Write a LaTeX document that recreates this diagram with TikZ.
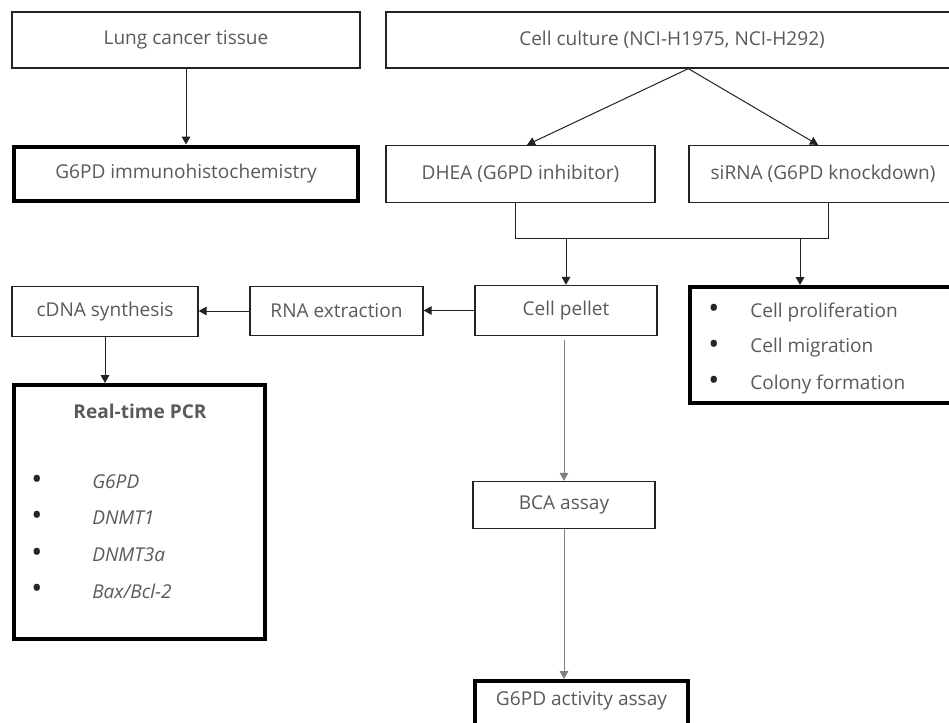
\documentclass[tikz,border=0pt]{standalone}
\usepackage{fontspec}
\setmainfont{Open Sans}
\usetikzlibrary{arrows.meta,calc}
\definecolor{txtc}{HTML}{5A5A5A}
\definecolor{linec}{HTML}{222222}
\begin{document}
\begin{tikzpicture}[x=0.75pt,y=-0.75pt,
  fnt/.style={font=\fontsize{14.3}{17}\selectfont},
  box/.style={draw=linec, line width=1pt, fill=white, inner sep=0pt, text=txtc, fnt},
  bbox/.style={box, draw=black, line width=3pt},
  sz/.style 2 args={minimum width=#1*0.75pt, minimum height=#2*0.75pt},
  conn/.style={draw=linec, line width=0.75pt},
  arr/.style={conn, -{Triangle[length=6pt,width=6.5pt]}},
  lbl/.style={text=txtc, fnt, inner sep=0pt},
  dot/.style={text=black!85, font=\fontsize{22}{22}\selectfont, inner sep=0pt},
]
\useasboundingbox (0,0) rectangle (949,722);
\clip (0,0) rectangle (949,722);

% boxes
\node[box, sz={348}{56}] (lung) at (186,40) {Lung cancer tissue};
\node[box, sz={572}{56}] (culture) at (672,40) {Cell culture (NCI-H1975, NCI-H292)};
\node[bbox, sz={344}{54}] (ihc) at (186,173.5) {G6PD immunohistochemistry};
\node[box, sz={269}{57}] (dhea) at (520.5,174) {DHEA (G6PD inhibitor)};
\node[box, sz={268}{57}] (sirna) at (823,174) {siRNA (G6PD knockdown)};
\node[box, sz={182}{50}] (pellet) at (566,310.5) {Cell pellet};
\node[box, sz={173}{49}] (rna) at (336.5,311) {RNA extraction};
\node[box, sz={186}{50}] (cdna) at (105,311.5) {cDNA synthesis};
\node[bbox, sz={251}{254}] (pcr) at (139.5,512) {};
\node[bbox, sz={267}{116}] (prolif) at (823.5,345) {};
\node[box, sz={182}{47}] (bca) at (564,505) {BCA assay};
\node[bbox, sz={213}{70}, anchor=north] (act) at (581.5,679) {};
\node[lbl] (actt) at (581.5,701) {G6PD activity assay};

% Real-time PCR content
\node[lbl, font=\fontsize{14.3}{17}\selectfont\bfseries] (pcrt) at (140,411) {Real-time PCR};
\foreach \y/\t in {482/G6PD, 518/DNMT1, 555/DNMT3a, 591/Bax\slash Bcl-2} {
  \node[dot] at (37,\y) {\textbullet};
  \node[lbl, anchor=west] at (92,\y) {\itshape \t};
}
% proliferation content
\foreach \y/\t in {312/Cell proliferation, 348/Cell migration, 384/Colony formation} {
  \node[dot] at (714,\y-1) {\textbullet};
  \node[lbl, anchor=west] at (750,\y) {\t};
}

% connectors
\draw[arr] (lung) -- (ihc);
\draw[arr] (culture.south -| sirna.west) -- ([xshift=4.9pt]dhea.north);
\draw[arr] (culture.south -| sirna.west) -- ([xshift=-3.75pt]sirna.north);
\coordinate (j) at (600,238);
\draw[conn] ([xshift=-3.4pt]dhea.south) |- ([xshift=3.75pt]sirna.south |- j) -- ([xshift=3.75pt]sirna.south);
\draw[arr] (pellet.north |- j) -- (pellet.north);
\draw[arr] ([xshift=-17.6pt]prolif.north |- j) -- ([xshift=-17.6pt]prolif.north);
\draw[arr] (pellet.west) -- (rna.east |- pellet.west);
\draw[arr] (rna.west) -- (cdna.east |- rna.west);
\draw[arr] (cdna) -- (cdna.south |- pcr.north);
\draw[arr, draw=gray] ([yshift=-3pt]bca.north |- pellet.south) -- (bca.north);
\draw[arr, draw=gray] (bca.south) -- (bca.south |- act.north);
\end{tikzpicture}
\end{document}
